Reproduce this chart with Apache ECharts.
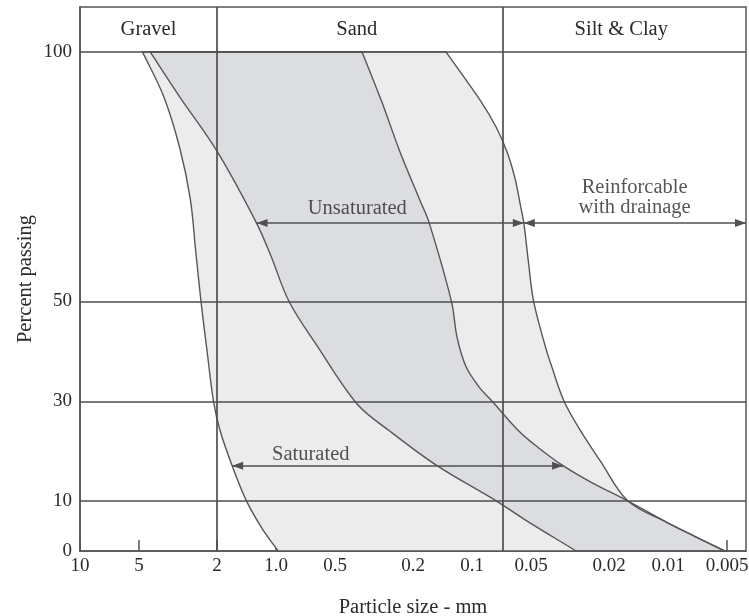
<!DOCTYPE html>
<html>
<head>
<meta charset="utf-8">
<script src="https://cdn.jsdelivr.net/npm/echarts@6/dist/echarts.min.js"></script>
<style>
  html, body { margin: 0; padding: 0; background: #fff; }
  #chart { width: 749px; height: 616px; }
</style>
</head>
<body>
<div id="chart"></div>
<script>
// ---- Axis ticks ----
const tickValues = [10, 5, 2, 1, 0.5, 0.2, 0.1, 0.05, 0.02, 0.01, 0.005];
const tickLabels = ['10', '5', '2', '1.0', '0.5', '0.2', '0.1', '0.05', '0.02', '0.01', '0.005'];
const percentTicks = [0, 10, 30, 50, 100];
const percentGridlines = [10, 30, 50, 100];
const sizeBoundaries = [2, 0.075];

// ---- Soil zones (header) ----
const zoneNames = ['Gravel', 'Sand', 'Silt & Clay'];
const zoneEdges = [10, 2, 0.075, 0.004];

// ---- Gradation curves: [particle size mm, percent passing] ----
const saturatedFine = [[4.80, 100], [3.745, 91.1], [3.10, 80.8], [2.736, 70.5], [2.57, 60.2], [2.414, 50], [2.247, 40], [2.084, 30], [1.931, 24.2], [1.674, 17.1], [1.413, 10], [1.17, 4.35], [0.975, 0]];
const unsaturatedFine = [[4.386, 100], [3.113, 91.1], [2.0, 80.1], [1.257, 65.7], [1.061, 59.1], [0.858, 50], [0.6145, 41], [0.3846, 29.4], [0.2661, 24.2], [0.1508, 17.1], [0.075, 10], [0.0546, 6.45], [0.02945, 0]];
const saturatedCoarse = [[0.3638, 100], [0.2889, 90.05], [0.2316, 79.7], [0.1833, 70.05], [0.1652, 65.7], [0.1273, 50], [0.1193, 42.9], [0.1075, 37], [0.0926, 33], [0.0789, 30], [0.0579, 24.1], [0.0462, 20.8], [0.03434, 17.1], [0.02449, 13.7], [0.01599, 10]];
const unsaturatedCoarse = [[0.1358, 100], [0.0899, 90.05], [0.075, 84.8], [0.0659, 79.7], [0.0603, 74.6], [0.0567, 69.4], [0.0544, 65.7], [0.0516, 58.1], [0.04848, 50], [0.04227, 41], [0.03924, 37], [0.03389, 30], [0.02807, 24.2], [0.02212, 18], [0.01599, 10]];
const sharedTail = [[0.01599, 10], [0.01009, 5.7], [0.00718, 2.8], [0.00512, 0]];

// ---- Range arrows [from mm, to mm, percent] ----
const unsaturatedRange = [1.257, 0.0544, 65.7];
const drainageRange = [0.0544, 0.004, 65.7];
const saturatedRange = [1.674, 0.0343, 17.1];

// ---- Annotation texts [text, mm, percent] ----
const annotations = [
  ['Unsaturated', 0.3846, 68.6],
  ['Reinforcable\nwith drainage', 0.0148, 70.8],
  ['Saturated', 0.6645, 19.35]
];

const satRight = saturatedCoarse.concat(sharedTail.slice(1));
const unsatRight = unsaturatedCoarse.concat(sharedTail.slice(1));

// fills: [left curve, right curve, colour]; outlines: [left curve, right curve]
const bandFills = [
  [saturatedFine, satRight, '#ececec'],
  [unsaturatedFine, unsatRight, '#ececec'],
  [unsaturatedFine, satRight, '#dcdde1']
];
const bandOutlines = [
  [saturatedFine, satRight],
  [unsaturatedFine, unsatRight]
];

const FONT = 'Liberation Serif';
const LINE = '#555';
const TXT = '#2b2b2b';
const SMOOTH = 0.35;

function labelFor(v) {
  for (let i = 0; i < tickValues.length; i++) {
    if (Math.abs(tickValues[i] - v) / tickValues[i] < 1e-6) return tickLabels[i];
  }
  return '';
}

const chart = echarts.init(document.getElementById('chart'), null, { renderer: 'canvas' });

const zoneAreas = zoneNames.map((n, i) => [
  { name: n, xAxis: zoneEdges[i], yAxis: 100 },
  { xAxis: zoneEdges[i + 1], yAxis: 109 }
]);

const gridLines = percentGridlines.map(p => ({ yAxis: p }))
  .concat(sizeBoundaries.map(s => ({ xAxis: s })));

const arrowLines = [unsaturatedRange, drainageRange, saturatedRange].map(r => [
  { coord: [r[0], r[2]] }, { coord: [r[1], r[2]] }
]);

// closed outline: left curve top->bottom, right curve bottom->top; corners doubled
// so the smoothing keeps the straight top/bottom edges straight
function bandPoints(api, left, right) {
  const l = left.map(p => api.coord(p));
  const r = right.slice().reverse().map(p => api.coord(p));
  return [l[0]].concat(l, [l[l.length - 1]], [r[0]], r, [r[r.length - 1]]);
}

const option = {
  animation: false,
  backgroundColor: '#fff',
  grid: {
    left: 80, right: 3, top: 7, bottom: 65, containLabel: false, outerBoundsMode: 'none',
    show: true, borderColor: LINE, borderWidth: 1.5, backgroundColor: 'transparent'
  },
  xAxis: {
    type: 'log', logBase: 10, min: 0.004, max: 10, inverse: true,
    name: 'Particle size - mm', nameLocation: 'middle', nameGap: 46, nameMoveOverlap: false,
    nameTextStyle: { fontFamily: FONT, fontSize: 20.5, color: TXT },
    axisLine: { show: true, lineStyle: { color: LINE, width: 1.5 } },
    axisTick: { show: true, inside: true, length: 11, customValues: tickValues, lineStyle: { color: LINE, width: 1.5 } },
    axisLabel: { customValues: tickValues, formatter: v => labelFor(v), fontFamily: FONT, fontSize: 19, color: TXT, margin: 6 },
    splitLine: { show: false }, minorTick: { show: false }
  },
  yAxis: {
    type: 'value', min: 0, max: 109,
    name: 'Percent passing', nameLocation: 'middle', nameGap: 44, nameMoveOverlap: false,
    nameTextStyle: { fontFamily: FONT, fontSize: 20.5, color: TXT },
    axisLine: { show: true, lineStyle: { color: LINE, width: 1.5 } },
    axisTick: { show: false },
    axisLabel: { customValues: percentTicks, fontFamily: FONT, fontSize: 19, color: TXT, margin: 8 },
    splitLine: { show: false }
  },
  series: [
    {
      type: 'custom', z: 1, silent: true,
      data: [saturatedFine[0]],
      renderItem: function (params, api) {
        const children = [];
        bandFills.forEach(b => {
          children.push({
            type: 'polygon',
            shape: { points: bandPoints(api, b[0], b[1]), smooth: SMOOTH },
            style: { fill: b[2], stroke: null }
          });
        });
        bandOutlines.forEach(b => {
          children.push({
            type: 'polygon',
            shape: { points: bandPoints(api, b[0], b[1]), smooth: SMOOTH },
            style: { fill: 'none', stroke: '#575757', lineWidth: 1.4 }
          });
        });
        return { type: 'group', children: children };
      },
      markArea: {
        silent: true,
        itemStyle: { color: 'transparent' },
        label: { show: true, position: 'inside', fontFamily: FONT, fontSize: 20.5, color: TXT },
        data: zoneAreas
      },
      markLine: {
        silent: true, symbol: 'none', z: 5,
        lineStyle: { color: '#4e4e4e', width: 1.7, type: 'solid' },
        label: { show: false },
        emphasis: { disabled: true },
        data: gridLines
      }
    },
    {
      type: 'scatter', z: 6, silent: true,
      symbolSize: 1,
      itemStyle: { color: 'transparent' },
      data: annotations.map(a => ({ value: [a[1], a[2]], label: { formatter: a[0] } })),
      label: { show: true, position: 'inside', fontFamily: FONT, fontSize: 20.5, color: TXT, lineHeight: 20, align: 'center' },
      markLine: {
        silent: true, z: 6,
        symbol: ['triangle', 'triangle'], symbolSize: [8, 11],
        symbolOffset: [[0, '50%'], [0, '50%']],
        lineStyle: { color: '#505050', width: 1.5, type: 'solid' },
        itemStyle: { color: '#2a2a2a' },
        label: { show: false },
        emphasis: { disabled: true },
        data: arrowLines
      }
    }
  ]
};

chart.setOption(option);
</script>
</body>
</html>
